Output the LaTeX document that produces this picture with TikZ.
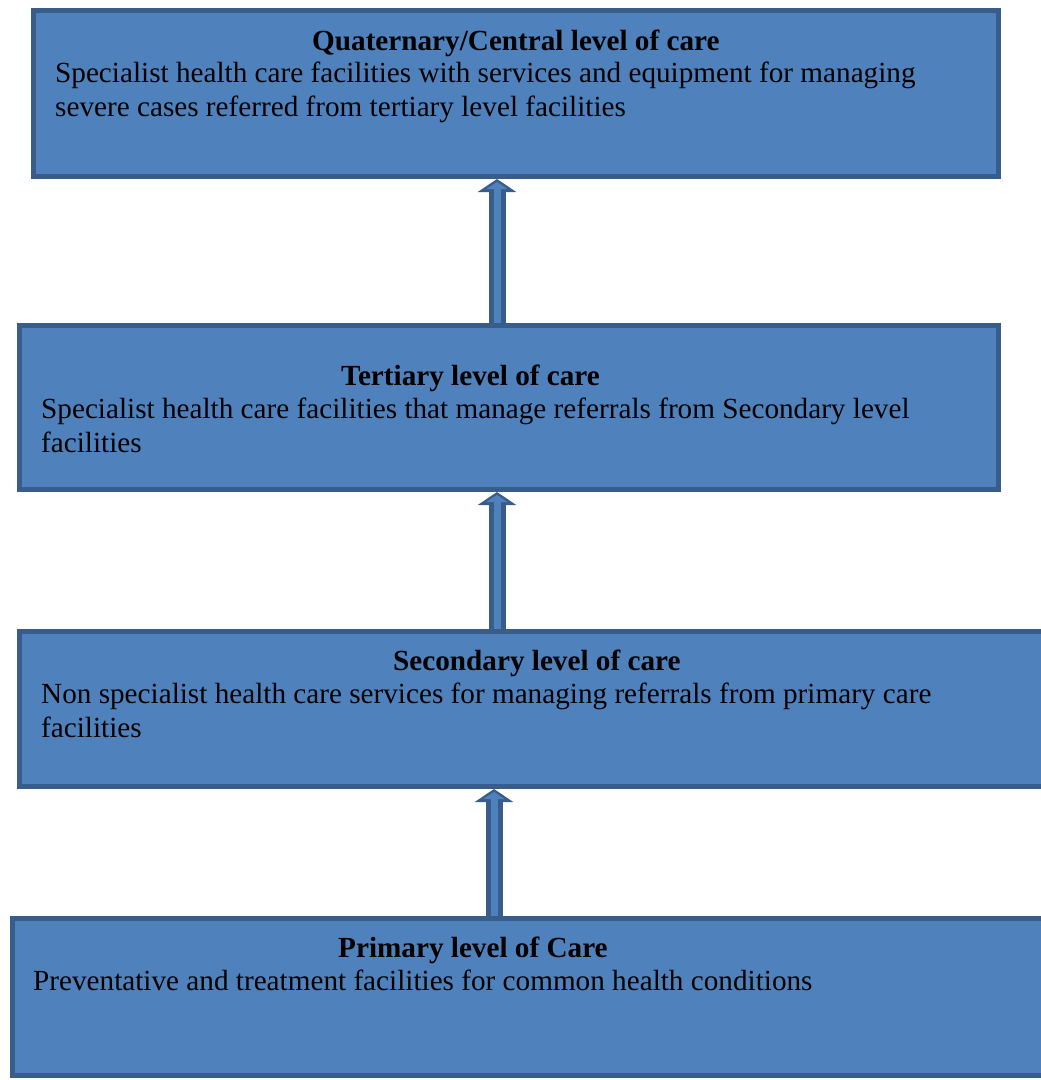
\documentclass[tikz,border=0pt]{standalone}
\usepackage{fontspec}
\setmainfont{Liberation Serif}
\usepackage{tikz}
\usetikzlibrary{positioning,arrows.meta,calc}
\definecolor{boxfill}{HTML}{4F81BD}
\definecolor{boxline}{HTML}{385D8A}

\begin{document}
\begin{tikzpicture}[
    x=1pt, y=-1pt,
    level/.style={
        rectangle, draw=boxline, fill=boxfill,
        line width=5pt, inner sep=0pt
    },
    title/.style={
        anchor=north west, inner sep=0pt,
        font=\fontsize{29.2}{34}\selectfont\bfseries
    },
    body/.style={
        anchor=north west, inner sep=0pt, align=left,
        font=\fontsize{29.2}{34}\selectfont
    },
    uparrow/.style={
        draw=boxline, line width=17pt,
        -{Triangle[width=38pt,length=13pt]},
        postaction={draw=boxfill, line width=7pt,
            -{Triangle[width=21pt,length=7pt]}, shorten >=3pt}
    }
]
\useasboundingbox (0,0) rectangle (1041,1080);
\clip (0,0) rectangle (1041,1080);

% Levels of care - top to bottom
\node[level, minimum width=965pt, minimum height=166pt] (quaternary) at (516,93.5) {};
\node[level, minimum width=979pt, minimum height=164pt] (tertiary) at (509,407.5) {};
\node[level, minimum width=1038pt, minimum height=155pt] (secondary) at (538.5,709) {};
\node[level, minimum width=1045pt, minimum height=157pt] (primary) at (535,997) {};

% Texts
\node[title] (quaternary-title) at (312,30) {Quaternary/Central level of care};
\node[body] (quaternary-text) at (55,62) {Specialist health care facilities with services and equipment for managing\\severe cases referred from tertiary level facilities};

\node[title] (tertiary-title) at (341,365) {Tertiary level of care};
\node[body] (tertiary-text) at (41,398) {Specialist health care facilities that manage referrals from Secondary level\\facilities};

\node[title] (secondary-title) at (393,650) {Secondary level of care};
\node[body] (secondary-text) at (41,683) {Non specialist health care services for managing referrals from primary care\\facilities};

\node[title] (primary-title) at (338,937) {Primary level of Care};
\node[body] (primary-text) at (33,970) {Preventative and treatment facilities for common health conditions};

% Referral arrows
\draw[uparrow] (tertiary.north -| 497,0) -- (quaternary.south -| 497,0);
\draw[uparrow] (secondary.north -| 497,0) -- (tertiary.south -| 497,0);
\draw[uparrow] (primary.north -| 494,0) -- (secondary.south -| 494,0);

\end{tikzpicture}
\end{document}
